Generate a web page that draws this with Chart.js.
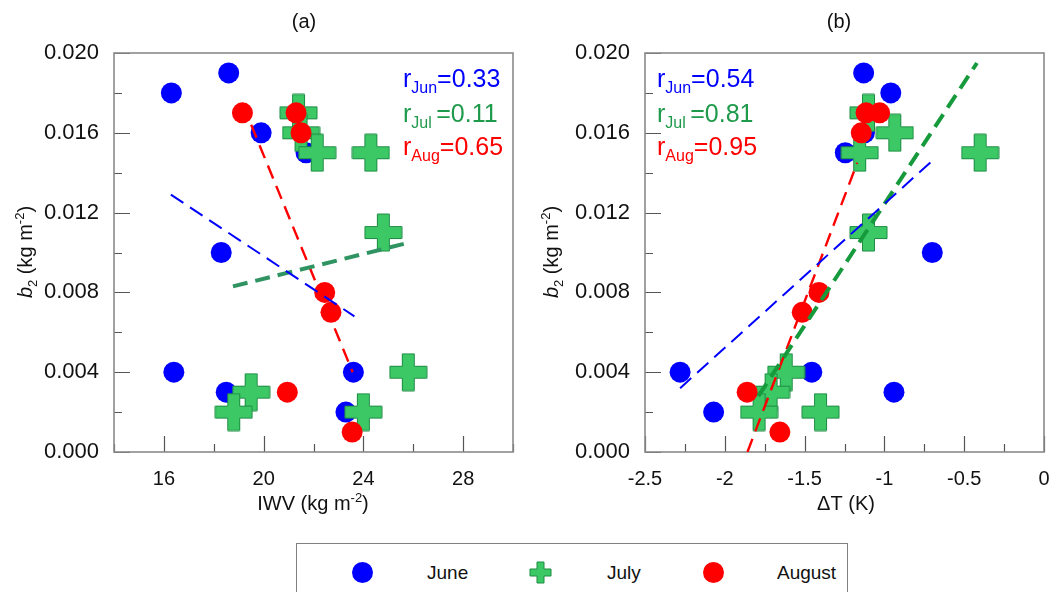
<!DOCTYPE html>
<html>
<head>
<meta charset="utf-8">
<script src="https://cdn.jsdelivr.net/npm/chart.js@4.4.1/dist/chart.umd.min.js"></script>
<style>
  body { margin: 0; background: #fff; width: 1050px; height: 592px; overflow: hidden; position: relative;
         font-family: "Liberation Sans", Arial, sans-serif; }
  #ca { position: absolute; left: 0; top: 0; }
  #cb { position: absolute; left: 525px; top: 0; }
  #legend { position: absolute; left: 296px; top: 543px; width: 552px; height: 70px;
            border: 1.5px solid #808080; box-sizing: border-box; }
  .dot { position: absolute; width: 21px; height: 21px; border-radius: 50%; }
  .lab { position: absolute; font-size: 19px; color: #111; line-height: 20px; }
  #lcross { position: absolute; }
</style>
</head>
<body>
<canvas id="ca" width="525" height="530"></canvas>
<canvas id="cb" width="525" height="530"></canvas>
<div id="legend"></div>
<div class="dot" style="left:352px;top:562px;background:#0000ff"></div>
<div class="lab" style="left:427px;top:563px">June</div>
<canvas id="lcross" width="23" height="23" style="left:529px;top:561px"></canvas>
<div class="lab" style="left:607px;top:563px">July</div>
<div class="dot" style="left:703px;top:562px;background:#ff0000"></div>
<div class="lab" style="left:777px;top:563px">August</div>
<script>
// b2 (kg m-2) per month, with matching IWV and deltaT for each point
const junB2  = [0.019, 0.018, 0.016, 0.015, 0.010, 0.004, 0.004, 0.003, 0.002];
const junIWV = [18.6, 16.3, 19.9, 21.7, 18.3, 16.4, 23.6, 18.5, 23.3];
const junDT  = [-1.13, -0.96, -1.125, -1.245, -0.70, -2.28, -1.455, -0.94, -2.07];

const julB2  = [0.017, 0.016, 0.015, 0.015, 0.011, 0.004, 0.003, 0.002, 0.002];
const julIWV = [21.4, 21.5, 22.15, 24.3, 24.8, 25.8, 19.5, 18.8, 24.0];
const julDT  = [-1.10, -0.935, -1.155, -0.40, -1.10, -1.615, -1.71, -1.785, -1.40];

const augB2  = [0.017, 0.017, 0.016, 0.008, 0.007, 0.003, 0.001];
const augIWV = [19.15, 21.3, 21.5, 22.45, 22.7, 20.95, 23.55];
const augDT  = [-1.115, -1.03, -1.145, -1.41, -1.515, -1.86, -1.655];

// regression lines (end points)
const junFitIWV = [16.28, 23.64], junFitA = [0.0129, 0.0068];
const julFitIWV = [18.77, 25.84], julFitA = [0.0083, 0.0105];
const augFitIWV = [19.5, 23.57],  augFitA = [0.0164, 0.0040];
const junFitDT = [-2.28, -0.70], junFitB = [0.0032, 0.0146];
const julFitDT = [-1.79, -0.42], julFitB = [0.0028, 0.0195];
const augFitDT = [-1.858, -1.17], augFitB = [0.0, 0.0145];

// correlation labels
const months = ['Jun', 'Jul ', 'Aug'];
const rIWV = ['0.33', '0.11', '0.65'];
const rDT  = ['0.54', '0.81', '0.95'];

// labelled ticks
const iwvLabels = [16, 20, 24, 28];
const dtLabels = [-2.5, -2, -1.5, -1, -0.5, 0];
const b2Labels = [0, 0.004, 0.008, 0.012, 0.016, 0.020];

const FONT = '"Liberation Sans", Arial, sans-serif';
const BLUE = '#0000ff', RED = '#ff0000', GREEN_TXT = '#1f9a4a';

function makeCross(size, arm) {
  const c = document.createElement('canvas');
  c.width = c.height = size + 2;
  const g = c.getContext('2d');
  const o = 1, a = (size - arm) / 2;
  g.beginPath();
  g.moveTo(o + a, o); g.lineTo(o + a + arm, o); g.lineTo(o + a + arm, o + a);
  g.lineTo(o + size, o + a); g.lineTo(o + size, o + a + arm); g.lineTo(o + a + arm, o + a + arm);
  g.lineTo(o + a + arm, o + size); g.lineTo(o + a, o + size); g.lineTo(o + a, o + a + arm);
  g.lineTo(o, o + a + arm); g.lineTo(o, o + a); g.lineTo(o + a, o + a);
  g.closePath();
  g.fillStyle = '#3cc865'; g.fill();
  g.strokeStyle = '#1e8c45'; g.lineWidth = 1; g.stroke();
  return c;
}
const crossImg = makeCross(37, 12);

// legend cross
(function () {
  const g = document.getElementById('lcross').getContext('2d');
  g.drawImage(makeCross(21, 7), 0, 0);
})();

function pts(xs, ys) { return xs.map((x, i) => ({ x: x, y: ys[i] })); }

function near(v, list) { return list.some(l => Math.abs(l - v) < 1e-6); }

// draws rich text, segments: {t, font, dy}
function richWidth(ctx, segs) {
  let w = 0;
  segs.forEach(s => { ctx.font = s.font; w += ctx.measureText(s.t).width; });
  return w;
}
function drawRich(ctx, segs, x, y) {
  segs.forEach(s => {
    ctx.font = s.font;
    ctx.fillText(s.t, x, y + (s.dy || 0));
    x += ctx.measureText(s.t).width;
  });
}

function decor(cfg) {
  return {
    id: 'decor',
    beforeDatasetsDraw(chart) {
      const { ctx, chartArea: a, scales: { x, y } } = chart;
      ctx.save();
      ctx.strokeStyle = '#555';
      ctx.lineWidth = 1.2;
      ctx.beginPath();
      x.ticks.forEach(t => {
        const px = Math.round(x.getPixelForValue(t.value)) + 0.5;
        const len = near(t.value, cfg.xLabels) ? 16 : 8;
        ctx.moveTo(px, a.bottom); ctx.lineTo(px, a.bottom - len);
      });
      y.ticks.forEach(t => {
        const py = Math.round(y.getPixelForValue(t.value)) + 0.5;
        const len = near(t.value, b2Labels) ? 16 : 8;
        ctx.moveTo(a.left, py); ctx.lineTo(a.left + len, py);
      });
      ctx.stroke();
      ctx.strokeStyle = '#8a8a8a';
      ctx.lineWidth = 1.6;
      ctx.strokeRect(a.left, a.top, a.right - a.left, a.bottom - a.top);
      ctx.restore();
    },
    afterDatasetsDraw(chart) {
      const ctx = chart.ctx;
      ctx.save();
      ctx.textBaseline = 'alphabetic';
      ctx.fillStyle = '#111';
      // panel title
      ctx.font = '20px ' + FONT;
      ctx.textAlign = 'center';
      ctx.fillText(cfg.title, cfg.titleX, 28);
      ctx.textAlign = 'left';
      // x axis title
      const xs = cfg.xTitle;
      const xw = richWidth(ctx, xs);
      drawRich(ctx, xs, cfg.xTitleX - xw / 2, 510);
      // y axis title
      const ys = [
        { t: 'b', font: 'italic 20px ' + FONT },
        { t: '2', font: '13px ' + FONT, dy: 5 },
        { t: ' (kg m', font: '20px ' + FONT },
        { t: '-2', font: '13px ' + FONT, dy: -8 },
        { t: ')', font: '20px ' + FONT }
      ];
      const yw = richWidth(ctx, ys);
      ctx.translate(cfg.yTitleX, 252);
      ctx.rotate(-Math.PI / 2);
      drawRich(ctx, ys, -yw / 2, 7);
      ctx.setTransform(1, 0, 0, 1, 0, 0);
      // correlation labels
      const colors = [BLUE, GREEN_TXT, RED];
      const bases = [87, 121.5, 154.5];
      months.forEach((m, i) => {
        ctx.fillStyle = colors[i];
        drawRich(ctx, [
          { t: 'r', font: '25px ' + FONT },
          { t: m, font: '16px ' + FONT, dy: 6 },
          { t: '=' + cfg.r[i], font: '25px ' + FONT }
        ], cfg.rX, bases[i]);
      });
      ctx.restore();
    }
  };
}

function scatterSet(data, color, order) {
  return {
    data: data, order: order,
    pointStyle: color ? 'circle' : crossImg,
    backgroundColor: color || '#3cc865',
    borderWidth: 0,
    pointRadius: color ? 10.5 : 18.5,
    showLine: false
  };
}
function fitSet(data, color, width, dash) {
  return {
    data: data, order: 0, showLine: true, pointRadius: 0,
    borderColor: color, borderWidth: width, borderDash: dash, fill: false
  };
}

function build(id, opt) {
  new Chart(document.getElementById(id), {
    type: 'scatter',
    data: {
      datasets: [
        fitSet(opt.fits[0], BLUE, 2, [15, 8]),
        fitSet(opt.fits[1], opt.greenLine, 4, [15, 8]),
        fitSet(opt.fits[2], RED, 2.4, [14, 8]),
        scatterSet(opt.aug, RED, 1),
        scatterSet(opt.jul, null, 2),
        scatterSet(opt.jun, BLUE, 3)
      ]
    },
    options: {
      responsive: false,
      devicePixelRatio: 1,
      animation: false,
      events: [],
      layout: { autoPadding: false, padding: { top: 53, right: opt.padRight, left: 0, bottom: 0 } },
      plugins: { legend: { display: false }, tooltip: { enabled: false } },
      scales: {
        x: {
          type: 'linear', min: opt.xMin, max: opt.xMax,
          grid: { display: false, drawTicks: false },
          border: { display: false },
          ticks: {
            stepSize: opt.xStep, autoSkip: false, maxRotation: 0, padding: 15,
            color: '#111', font: { size: 20, family: FONT },
            callback: v => near(v, opt.xLabels) ? String(Math.round(v * 10) / 10) : ''
          },
          afterFit: s => { s.height = 78; s.paddingLeft = 0; s.paddingRight = 0; }
        },
        y: {
          type: 'linear', min: 0, max: 0.02,
          grid: { display: false, drawTicks: false },
          border: { display: false },
          ticks: {
            stepSize: 0.002, autoSkip: false, padding: 15,
            color: '#111', font: { size: 22, family: FONT },
            callback: v => near(v, b2Labels) ? v.toFixed(3) : ''
          },
          afterFit: s => { s.width = opt.yWidth; s.paddingTop = 0; s.paddingBottom = 0; }
        }
      }
    },
    plugins: [decor(opt)]
  });
}

build('ca', {
  jun: pts(junIWV, junB2), jul: pts(julIWV, julB2), aug: pts(augIWV, augB2),
  fits: [pts(junFitIWV, junFitA), pts(julFitIWV, julFitA), pts(augFitIWV, augFitA)],
  greenLine: '#2f9462',
  xMin: 14, xMax: 30, xStep: 2, xLabels: iwvLabels,
  yWidth: 114, padRight: 12,
  title: '(a)', titleX: 304,
  xTitle: [{ t: 'IWV (kg m', font: '20px ' + FONT }, { t: '-2', font: '13px ' + FONT, dy: -8 }, { t: ')', font: '20px ' + FONT }],
  xTitleX: 313,
  yTitleX: 25,
  r: rIWV, rX: 403
});

build('cb', {
  jun: pts(junDT, junB2), jul: pts(julDT, julB2), aug: pts(augDT, augB2),
  fits: [pts(junFitDT, junFitB), pts(julFitDT, julFitB), pts(augFitDT, augFitB)],
  greenLine: '#169a3c',
  xMin: -2.5, xMax: 0, xStep: 0.25, xLabels: dtLabels,
  yWidth: 120, padRight: 6,
  title: '(b)', titleX: 314,
  xTitle: [{ t: '\u0394T (K)', font: '20px ' + FONT }],
  xTitleX: 321,
  yTitleX: 26,
  r: rDT, rX: 132
});
</script>
</body>
</html>
